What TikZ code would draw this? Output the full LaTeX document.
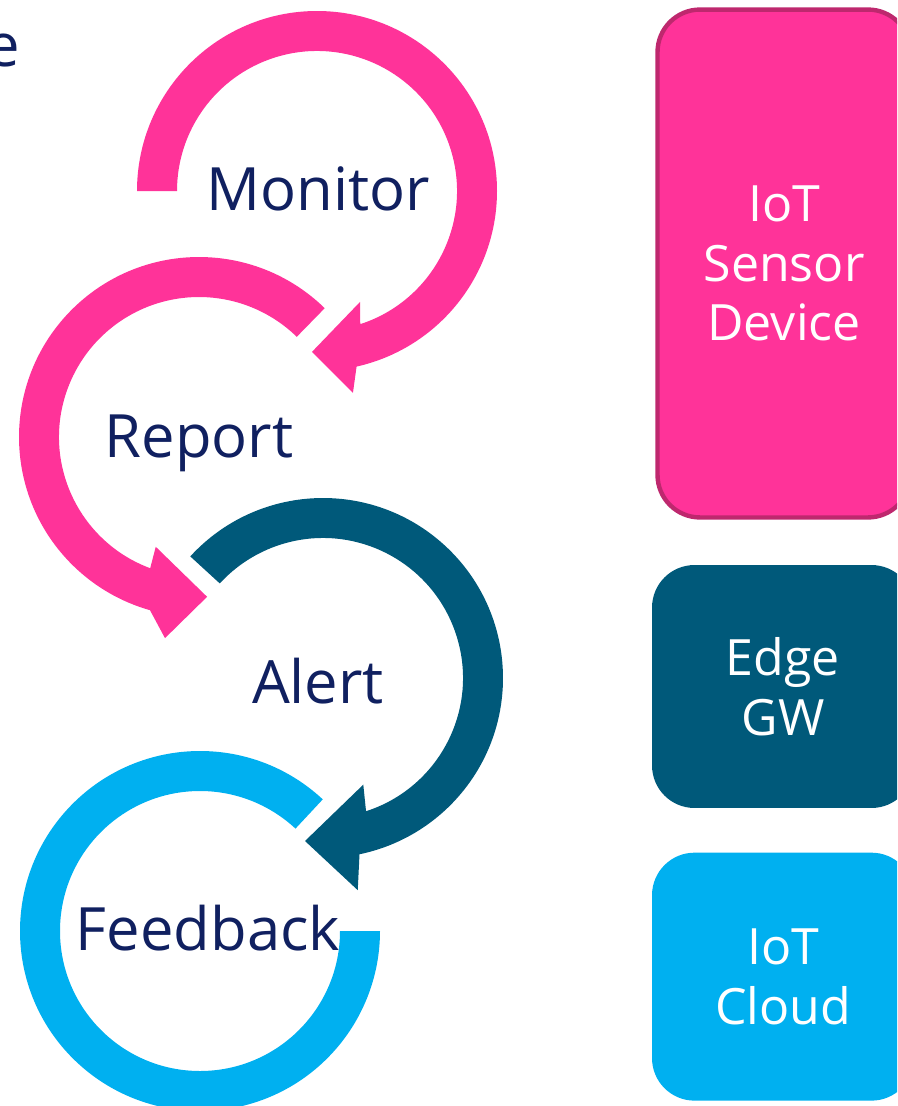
\documentclass[tikz,border=0pt]{standalone}
\usepackage{fontspec}
\setmainfont{Open Sans}
\usepackage{tikz}
\usetikzlibrary{positioning}
\definecolor{hotpink}{RGB}{255,51,153}
\definecolor{pinkedge}{RGB}{190,40,110}
\definecolor{petrol}{RGB}{0,89,122}
\definecolor{skyblue}{RGB}{0,176,240}
\definecolor{navytext}{RGB}{16,32,96}

\begin{document}
\begin{tikzpicture}[x=0.02cm, y=-0.02cm,
		steplabel/.style={font=\fontsize{34}{40}\selectfont, text=navytext, inner sep=0pt, anchor=base},
		devicebox/.style={rounded corners=0.85cm, text=white, align=center, inner sep=0pt,
			font=\fontsize{28.5}{34}\selectfont}]
		
		% Fix the canvas
		\useasboundingbox (0,0) rectangle (897,1106);
		\clip (0,0) rectangle (897,1106);
		
		% Draw the cycle arrows
		\fill[hotpink, shift={(317,191)}] (180:180) arc[start angle=180, end angle=437.3, radius=180]
		-- (439.9:205) -- (451.8:161) -- (428.8:119) -- (432:140)
		arc[start angle=432, end angle=180, radius=140] -- cycle;
		
		\fill[hotpink, shift={(199,437)}] (314.3:180) arc[start angle=314.3, end angle=105.8, radius=180]
		-- (99.6:204) -- (87.1:160) -- (111.5:118) -- (110.4:140)
		arc[start angle=110.4, end angle=314.3, radius=140] -- cycle;
		
		\fill[petrol, shift={(323,678)}] (222.5:180) arc[start angle=222.5, end angle=438.3, radius=180]
		-- (440.7:215) -- (456.3:164) -- (429.3:114) -- (432.1:140)
		arc[start angle=432.1, end angle=222.5, radius=140] -- cycle;
		
		\fill[skyblue, shift={(200,931)}] (313:180) arc[start angle=313, end angle=0, radius=180]
		-- (0:140) arc[start angle=0, end angle=313, radius=140] -- cycle;
		
		% Add labels
		\node[steplabel, anchor=base east] (cutoff) at (20,66) {e};
		\node[steplabel] (monitor) at (318,210) {Monitor};
		\node[steplabel] (report) at (199,457) {Report};
		\node[steplabel] (alert) at (318,703) {Alert};
		\node[steplabel] (feedback) at (208,950) {Feedback};
		
		% Add device boxes
		\node[devicebox, fill=hotpink, draw=pinkedge, line width=2.5pt,
		minimum width=5.06cm, minimum height=10.16cm] (sensor) at (784,263.5) {IoT\\Sensor\\Device};
		\node[devicebox, fill=petrol, minimum width=5.24cm, minimum height=4.86cm] (edge) at (783,686.5) {Edge\\GW};
		\node[devicebox, fill=skyblue, minimum width=5.24cm, minimum height=4.96cm, below=0.88cm of edge] (cloud) {IoT\\Cloud};
		
	\end{tikzpicture}
\end{document}
